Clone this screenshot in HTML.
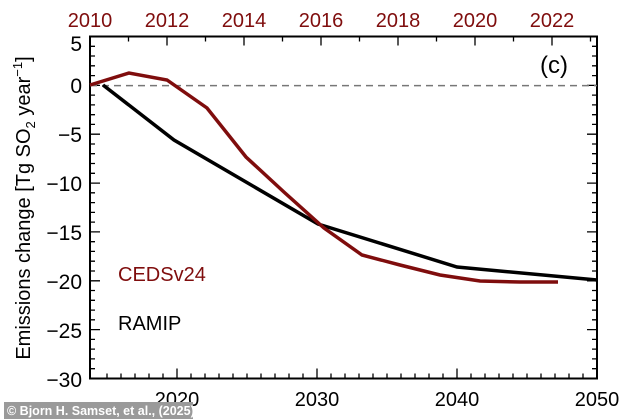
<!DOCTYPE html><html><head><style>body{margin:0;background:#fff}svg{display:block}text{font-family:"Liberation Sans",sans-serif}</style></head><body>
<svg width="634" height="419" viewBox="0 0 634 419" xmlns="http://www.w3.org/2000/svg">
<g stroke="#000" stroke-width="1.3" fill="none">
<path d="M90 46.3h5M90 56h5M90 65.8h5M90 75.6h5M90 85.4h10M90 95.1h5M90 104.9h5M90 114.7h5M90 124.4h5M90 134.2h10M90 144h5M90 153.7h5M90 163.5h5M90 173.3h5M90 183.1h10M90 192.8h5M90 202.6h5M90 212.4h5M90 222.1h5M90 231.9h10M90 241.7h5M90 251.4h5M90 261.2h5M90 271h5M90 280.8h10M90 290.5h5M90 300.3h5M90 310.1h5M90 319.8h5M90 329.6h10M90 339.4h5M90 349.1h5M90 358.9h5M90 368.7h5"/>
<path d="M597 46.3h-5M597 56h-5M597 65.8h-5M597 75.6h-5M597 85.4h-10M597 95.1h-5M597 104.9h-5M597 114.7h-5M597 124.4h-5M597 134.2h-10M597 144h-5M597 153.7h-5M597 163.5h-5M597 173.3h-5M597 183.1h-10M597 192.8h-5M597 202.6h-5M597 212.4h-5M597 222.1h-5M597 231.9h-10M597 241.7h-5M597 251.4h-5M597 261.2h-5M597 271h-5M597 280.8h-10M597 290.5h-5M597 300.3h-5M597 310.1h-5M597 319.8h-5M597 329.6h-10M597 339.4h-5M597 349.1h-5M597 358.9h-5M597 368.7h-5"/>
<path d="M107 378.5v-5M121 378.5v-5M135 378.5v-5M149 378.5v-5M163 378.5v-5M177 378.5v-10M191 378.5v-5M205 378.5v-5M219 378.5v-5M233 378.5v-5M247 378.5v-5M261 378.5v-5M275 378.5v-5M289 378.5v-5M303 378.5v-5M317 378.5v-10M331 378.5v-5M345 378.5v-5M359 378.5v-5M373 378.5v-5M387 378.5v-5M401 378.5v-5M415 378.5v-5M429 378.5v-5M443 378.5v-5M457 378.5v-10M471 378.5v-5M485 378.5v-5M499 378.5v-5M513 378.5v-5M527 378.5v-5M541 378.5v-5M555 378.5v-5M569 378.5v-5M583 378.5v-5"/>
<path d="M128.5 36.5v5M167 36.5v9M205.5 36.5v5M244 36.5v9M282.5 36.5v5M321 36.5v9M359.5 36.5v5M398 36.5v9M436.5 36.5v5M475 36.5v9M513.5 36.5v5M552 36.5v9M590.5 36.5v5"/>
</g>
<rect x="90" y="36.5" width="507" height="342" fill="none" stroke="#000" stroke-width="2"/>
<line x1="90" y1="85.6" x2="597" y2="85.6" stroke="#777" stroke-width="1.5" stroke-dasharray="7,5"/>
<polyline fill="none" stroke="#000" stroke-width="3.5" points="103,85 174,140 246,182 318,224 457,267 597,280"/>
<polyline fill="none" stroke="#7f0d0d" stroke-width="3.5" points="90,85 129,73 167,80 207,108 246,157 285,193 324,228 362,255 400,265 440,275 480,281 520,282 558,282"/>
<g font-size="20" fill="#7f0d0d" text-anchor="middle">
<text x="90" y="27">2010</text><text x="167" y="27">2012</text><text x="244" y="27">2014</text><text x="321" y="27">2016</text><text x="398" y="27">2018</text><text x="475" y="27">2020</text><text x="552" y="27">2022</text></g>
<g font-size="21" fill="#000" text-anchor="end">
<text x="82" y="51">5</text><text x="82" y="93">0</text><text x="82" y="142">−5</text><text x="82" y="191">−10</text><text x="82" y="240">−15</text><text x="82" y="289">−20</text><text x="82" y="338">−25</text><text x="82" y="387">−30</text></g>
<g font-size="20" text-anchor="middle"><text x="177" y="406">2020</text><text x="317" y="406">2030</text><text x="457" y="406">2040</text><text x="597" y="406">2050</text></g>
<text transform="translate(30,208) rotate(-90)" font-size="20" text-anchor="middle">Emissions change [Tg SO<tspan font-size="13" dy="5">2</tspan><tspan dy="-5"> year</tspan><tspan font-size="13" dy="-8">−1</tspan><tspan dy="8">]</tspan></text>
<text x="118" y="281" font-size="20" fill="#7f0d0d">CEDSv24</text>
<text x="118" y="330" font-size="20">RAMIP</text>
<text x="540" y="73" font-size="24">(c)</text>
<rect x="4" y="402" width="189" height="17" fill="#9a9a9a"/>
<text x="7" y="415" font-size="12.5" font-weight="bold" fill="#fff">© Bjorn H. Samset, et al., (2025)</text>
</svg></body></html>
